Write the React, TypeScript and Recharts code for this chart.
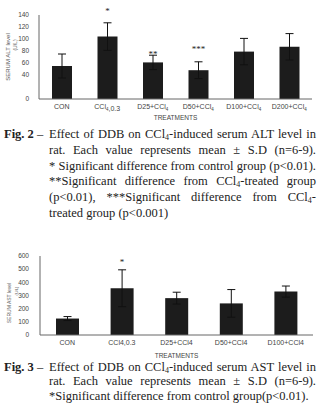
import React from "react";
import { BarChart, Bar, XAxis, YAxis, ErrorBar, LabelList } from "recharts";

// Fig. 2 - serum ALT
const altCategories = ["CON", "CCl₄,0.3", "D25+CCl₄", "D50+CCl₄", "D100+CCl₄", "D200+CCl₄"];
const altMean = [55, 104, 61, 48, 79, 87];
const altSd = [20, 23, 12, 14, 22, 22];
const altSig = ["", "*", "**", "***", "", ""];
const altSigLevel = [0, 150, 79, 87, 0, 0];
const altTicks = [0, 20, 40, 60, 80, 100, 120, 140];

// Fig. 3 - serum AST
const astCategories = ["CON", "CCl4,0.3", "D25+CCl4", "D50+CCl4", "D100+CCl4"];
const astMean = [125, 355, 280, 240, 330];
const astSd = [15, 140, 45, 105, 42];
const astSig = ["", "*", "", "", ""];
const astSigLevel = [0, 569, 0, 0, 0];
const astTicks = [0, 100, 200, 300, 400, 500, 600];

const sans = "'Liberation Sans', Arial, sans-serif";
const serif = "'Liberation Serif', 'Times New Roman', serif";

const altData = altCategories.map((name, i) => ({ name, mean: altMean[i], sd: altSd[i], sig: altSig[i] }));
const astData = astCategories.map((name, i) => ({ name, mean: astMean[i], sd: astSd[i], sig: astSig[i] }));

function TreatTick(props: any) {
  const { x, y, payload } = props;
  const parts = String(payload.value).split("₄");
  return (
    <text x={x} y={y + 10} textAnchor="middle" fontSize={7} fill="#444" fontFamily={sans}>
      {parts.length === 1
        ? parts[0]
        : parts.map((p, i) => (
            <React.Fragment key={i}>
              <tspan>{p}</tspan>
              {i < parts.length - 1 && (
                <tspan fontSize={4.5} dy={1.5}>4</tspan>
              )}
              {i < parts.length - 1 && <tspan dy={-1.5}></tspan>}
            </React.Fragment>
          ))}
    </text>
  );
}

function starLabel(levels: number[], means: number[]) {
  return (props: any) => {
    const { x, y, width, height, value, index } = props;
    if (!value) return null;
    const base = y + height;
    const sy = base - levels[index] * (height / means[index]);
    return (
      <text x={x + width / 2} y={sy + 5} textAnchor="middle" fontSize={9} fill="#222" fontFamily={serif}>
        {value}
      </text>
    );
  };
}

function yTitle(main: string, cx: number, cy: number, size: number) {
  return () => (
    <g fill="#555" fontFamily={sans}>
      <text transform={`translate(${cx},${cy}) rotate(-90)`} textAnchor="middle" fontSize={size}>
        {main}
      </text>
      <text transform={`translate(${cx + 7},${cy - 12}) rotate(-90)`} textAnchor="middle" fontSize={size - 1}>
        (U/L)
      </text>
    </g>
  );
}

function xTitle(ty: number) {
  return (props: any) => {
    const vb = props.viewBox;
    return (
      <text x={vb.x + vb.width / 2} y={ty} textAnchor="middle" fontSize={6.5} fill="#444" fontFamily={sans}>
        TREATMENTS
      </text>
    );
  };
}

function CaptionBlock({ top, label, lines, lh }: { top: number; label: string; lines: React.ReactNode[]; lh: number }) {
  return (
    <div style={{ position: "absolute", top, left: 0, width: 317, fontFamily: serif, fontSize: 12.5, lineHeight: `${lh}px`, color: "#222" }}>
      <div style={{ position: "absolute", left: 4, top: 0, fontWeight: "bold", whiteSpace: "nowrap" }}>
        {label} <span style={{ fontWeight: "normal" }}>–</span>
      </div>
      {lines.map((ln, i) => (
        <div
          key={i}
          style={{
            marginLeft: 49,
            width: 267,
            whiteSpace: "nowrap",
            textAlign: "justify",
            textAlignLast: i < lines.length - 1 ? "justify" : "left",
            height: lh,
          }}
        >
          {ln}
        </div>
      ))}
    </div>
  );
}

const sub4 = <sub style={{ fontSize: 8, verticalAlign: "-2px", lineHeight: 0 }}>4</sub>;

export default function App() {
  return (
    <div style={{ position: "fixed", left: 0, top: 0, width: 317, height: 404, overflow: "hidden", background: "#fff" }}>
      <div style={{ position: "absolute", left: 0, top: 0 }}>
        <BarChart width={317} height={125} data={altData} margin={{ top: 15, right: 5, left: 0, bottom: 0 }}>
          <XAxis
            dataKey="name"
            height={26}
            tick={<TreatTick />}
            tickLine={false}
            tickSize={0}
            tickMargin={0}
            interval={0}
            axisLine={{ stroke: "#666" }}
            label={{ content: xTitle(120) }}
          />
          <YAxis
            width={39}
            domain={[0, 140]}
            ticks={altTicks}
            tickLine={false}
            tickMargin={4}
            axisLine={{ stroke: "#666" }}
            tick={{ fontSize: 6.5, fill: "#444", fontFamily: sans }}
            label={{ content: yTitle("SERUM ALT level", 10, 57, 6) }}
          />
          <Bar dataKey="mean" fill="#1c1c1c" barSize={20} isAnimationActive={false}>
            <ErrorBar dataKey="sd" width={4} stroke="#111" strokeWidth={1} direction="y" />
            <LabelList dataKey="sig" content={starLabel(altSigLevel, altMean)} />
          </Bar>
        </BarChart>
      </div>

      <CaptionBlock
        top={127}
        lh={15.8}
        label="Fig. 2"
        lines={[
          <>Effect of DDB on CCl{sub4}-induced serum ALT level in</>,
          <>rat. Each value represents mean ± S.D (n=6-9).</>,
          <>* Significant difference from control group (p&lt;0.01).</>,
          <>**Significant difference from CCl{sub4}-treated group</>,
          <>(p&lt;0.01), ***Significant difference from CCl{sub4}-</>,
          <>treated group (p&lt;0.001)</>,
        ]}
      />

      <div style={{ position: "absolute", left: 0, top: 245 }}>
        <BarChart width={317} height={120} data={astData} margin={{ top: 11, right: 4, left: 0, bottom: 0 }}>
          <XAxis
            dataKey="name"
            height={30}
            tick={<TreatTick />}
            tickLine={false}
            tickSize={0}
            tickMargin={0}
            interval={0}
            axisLine={{ stroke: "#666" }}
            label={{ content: xTitle(113) }}
          />
          <YAxis
            width={40}
            domain={[0, 600]}
            ticks={astTicks}
            tickLine={false}
            tickMargin={5}
            axisLine={{ stroke: "#666" }}
            tick={{ fontSize: 6.5, fill: "#444", fontFamily: sans }}
            label={{ content: yTitle("SERUM AST level", 11, 58, 5) }}
          />
          <Bar dataKey="mean" fill="#1c1c1c" barSize={23} isAnimationActive={false}>
            <ErrorBar dataKey="sd" width={4} stroke="#111" strokeWidth={1} direction="y" />
            <LabelList dataKey="sig" content={starLabel(astSigLevel, astMean)} />
          </Bar>
        </BarChart>
      </div>

      <CaptionBlock
        top={360}
        lh={14.4}
        label="Fig. 3"
        lines={[
          <>Effect of DDB on CCl{sub4}-induced serum AST level in</>,
          <>rat. Each value represents mean ± S.D (n=6-9).</>,
          <>*Significant difference from control group(p&lt;0.01).</>,
        ]}
      />
    </div>
  );
}
